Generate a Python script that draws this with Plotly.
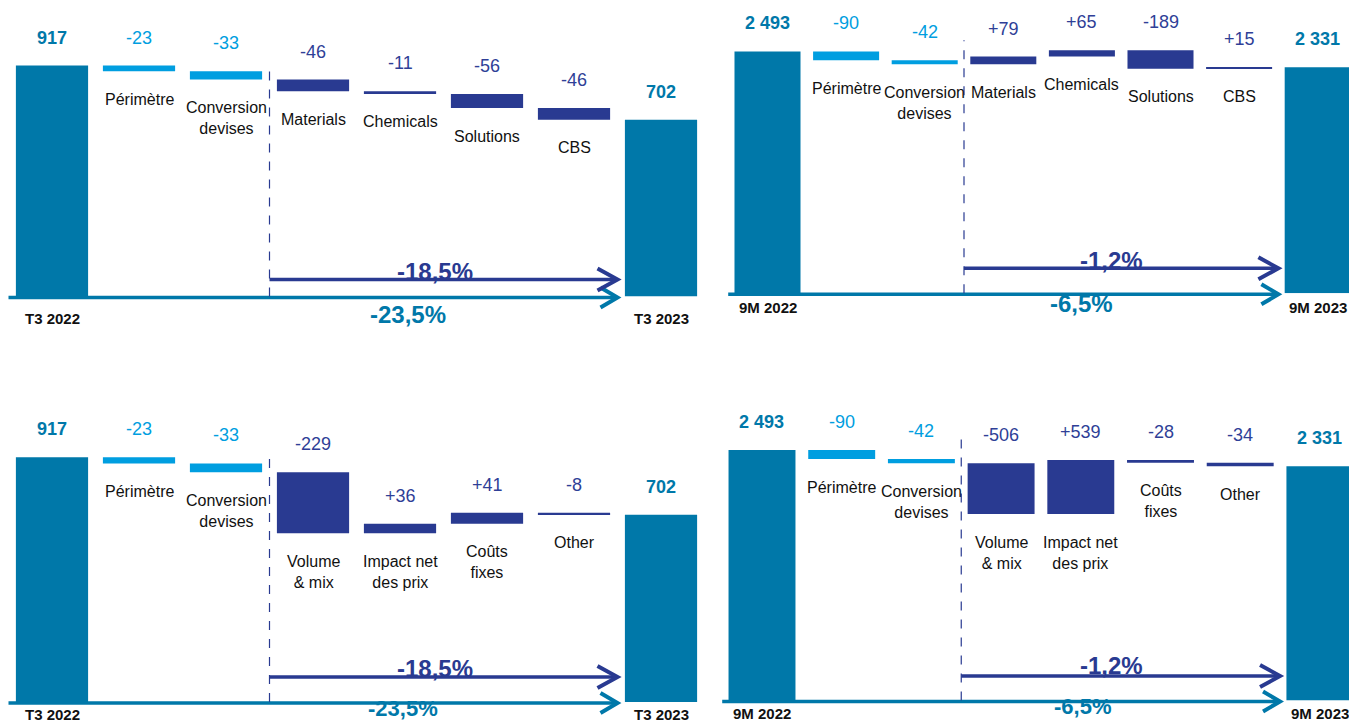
import numpy as np
import plotly.graph_objects as go

W, H = 1349, 722

# ---------------- data ----------------
q3_period = ["T3 2022", "T3 2023"]
m9_period = ["9M 2022", "9M 2023"]

q3_start, q3_end = 917, 702
m9_start, m9_end = 2493, 2331

seg_cats = ["Périmètre", "Conversion<br>devises", "Materials", "Chemicals", "Solutions", "CBS"]
drv_cats = ["Périmètre", "Conversion<br>devises", "Volume<br>& mix", "Impact net<br>des prix", "Coûts<br>fixes", "Other"]

q3_seg_deltas = [-23, -33, -46, -11, -56, -46]
m9_seg_deltas = [-90, -42, 79, 65, -189, 15]
q3_drv_deltas = [-23, -33, -229, 36, 41, -8]
m9_drv_deltas = [-90, -42, -506, 539, -28, -34]

q3_pct = ["-18,5%", "-23,5%"]
m9_pct = ["-1,2%", "-6,5%"]

# ---------------- style ----------------
TEAL = "#0078A9"
LIGHT = "#009EE0"
NAVY = "#293A91"
NAVY_TXT = "#2F3F97"
FONT = "Liberation Sans, Arial, sans-serif"

panels = [
    dict(cats=seg_cats, deltas=q3_seg_deltas, start=q3_start, end=q3_end, period=q3_period, pct=q3_pct,
         c0=52, step=87, left=8.5, right=704.5, base=296.5, scale=0.2519, top=0, bw=0.83,
         navy_off=17, navy_pct=25, teal_pct=-17.5, teal_size=24, per=-22, dash=228, navy_x=4.4, teal_x=4.09),
    dict(cats=seg_cats, deltas=m9_seg_deltas, start=m9_start, end=m9_end, period=m9_period, pct=m9_pct,
         c0=767.5, step=78.6, left=728.2, right=1349, base=293.3, scale=0.0970, top=0, bw=0.84,
         navy_off=25, navy_pct=33, teal_pct=-10, teal_size=24, per=-14, dash=253, navy_x=4.38, teal_x=4.0),
    dict(cats=drv_cats, deltas=q3_drv_deltas, start=q3_start, end=q3_end, period=q3_period, pct=q3_pct,
         c0=52, step=87, left=8.5, right=704.5, base=702, scale=0.2669, top=380, bw=0.83,
         navy_off=25, navy_pct=34, teal_pct=-6.5, teal_size=22, per=-12, dash=250, navy_x=4.4, teal_x=4.03),
    dict(cats=drv_cats, deltas=m9_drv_deltas, start=m9_start, end=m9_end, period=m9_period, pct=m9_pct,
         c0=762, step=79.7, left=722.2, right=1349, base=700.5, scale=0.1005, top=380, bw=0.84,
         navy_off=24.5, navy_pct=35.5, teal_pct=-5.5, teal_size=22, per=-13, dash=267, navy_x=4.39, teal_x=4.02),
]


def fmt_total(v):
    return f"{v:,}".replace(",", " ")


def fmt_delta(v):
    return f"+{v}" if v > 0 else f"{v}"


def pxx(px):
    return px / W


def pxy(py):
    return 1 - py / H


fig = go.Figure()
shapes, annotations = [], []
layout_axes = {}

for i, p in enumerate(panels, start=1):
    xa = "x" if i == 1 else f"x{i}"
    ya = "y" if i == 1 else f"y{i}"
    deltas = np.array(p["deltas"])
    n = len(deltas)
    cum = p["start"] + np.concatenate([[0], np.cumsum(deltas)])
    lo = np.minimum(cum[:-1], cum[1:])
    hi = np.maximum(cum[:-1], cum[1:])
    xs = np.arange(1, n + 1)
    colors = [LIGHT] * 2 + [NAVY] * (n - 2)
    txtcol = [LIGHT] * 2 + [NAVY_TXT] * (n - 2)

    fig.add_trace(go.Bar(x=[0, n + 1], y=[p["start"], p["end"]], base=[0, 0], width=p["bw"],
                         marker=dict(color=TEAL, line=dict(width=0)), xaxis=xa, yaxis=ya,
                         hoverinfo="skip"))
    fig.add_trace(go.Bar(x=xs, y=hi - lo, base=lo, width=p["bw"],
                         marker=dict(color=colors, line=dict(width=0)), xaxis=xa, yaxis=ya,
                         hoverinfo="skip"))

    x_rng = [(p["left"] - p["c0"]) / p["step"], (p["right"] - p["c0"]) / p["step"]]
    y_max = (p["base"] - p["top"]) / p["scale"]
    sfx = "" if i == 1 else str(i)
    layout_axes[f"xaxis{sfx}"] = dict(domain=[pxx(p["left"]), pxx(p["right"])], range=x_rng,
                                      visible=False, anchor=ya, fixedrange=True)
    layout_axes[f"yaxis{sfx}"] = dict(domain=[pxy(p["base"]), pxy(p["top"])], range=[0, y_max],
                                      visible=False, anchor=xa, fixedrange=True)

    # total labels
    for xv, v in [(0, p["start"]), (n + 1, p["end"])]:
        annotations.append(dict(x=xv, y=v, xref=xa, yref=ya, text=f"<b>{fmt_total(v)}</b>",
                                showarrow=False, yanchor="middle", yshift=28,
                                font=dict(family=FONT, size=18, color=TEAL)))
    # period labels
    for xv, t in [(0, p["period"][0]), (n + 1, p["period"][1])]:
        annotations.append(dict(x=xv, y=0, xref=xa, yref=ya, text=f"<b>{t}</b>", showarrow=False,
                                yanchor="middle", yshift=p["per"],
                                font=dict(family=FONT, size=15, color="#111111")))
    # delta + category labels
    for k in range(n):
        annotations.append(dict(x=xs[k], y=hi[k], xref=xa, yref=ya, text=fmt_delta(int(deltas[k])),
                                showarrow=False, yanchor="middle", yshift=28,
                                font=dict(family=FONT, size=18, color=txtcol[k])))
        annotations.append(dict(x=xs[k], y=lo[k], xref=xa, yref=ya, text=p["cats"][k],
                                showarrow=False, yanchor="top", yshift=-17.5,
                                font=dict(family=FONT, size=16, color="#111111")))
    # percentage labels
    annotations.append(dict(x=p["navy_x"], y=0, xref=xa, yref=ya, text=f"<b>{p['pct'][0]}</b>",
                            showarrow=False, yanchor="middle", yshift=p["navy_pct"],
                            font=dict(family=FONT, size=24, color=NAVY)))
    annotations.append(dict(x=p["teal_x"], y=0, xref=xa, yref=ya, text=f"<b>{p['pct'][1]}</b>",
                            showarrow=False, yanchor="middle", yshift=p["teal_pct"],
                            font=dict(family=FONT, size=p["teal_size"], color=TEAL)))

    # decorations (pixel geometry)
    split_px = p["c0"] + 2.5 * p["step"]
    tip_px = p["c0"] + 6.5 * p["step"]
    left_px = p["left"]
    # dashed separator
    shapes.append(dict(type="line", xref="paper", yref="paper", x0=pxx(split_px), x1=pxx(split_px),
                       y0=pxy(p["base"]), y1=pxy(p["base"] - p["dash"]),
                       line=dict(color=NAVY, width=1.2, dash="dash"), layer="above"))
    # teal baseline arrow
    ty = p["base"] + 1
    shapes.append(dict(type="line", xref="paper", yref="paper", x0=pxx(left_px), x1=pxx(tip_px - 1),
                       y0=pxy(ty), y1=pxy(ty), line=dict(color=TEAL, width=3.5), layer="below"))
    shapes.append(dict(type="path", xref="paper", yref="paper",
                       path=f"M{pxx(tip_px - 17)},{pxy(ty - 10)} L{pxx(tip_px)},{pxy(ty)} L{pxx(tip_px - 17)},{pxy(ty + 10)}",
                       line=dict(color=TEAL, width=4), layer="above"))
    # navy arrow
    ny = p["base"] - p["navy_off"]
    shapes.append(dict(type="line", xref="paper", yref="paper", x0=pxx(split_px), x1=pxx(tip_px - 1),
                       y0=pxy(ny), y1=pxy(ny), line=dict(color=NAVY, width=3.5), layer="above"))
    shapes.append(dict(type="path", xref="paper", yref="paper",
                       path=f"M{pxx(tip_px - 20)},{pxy(ny - 11)} L{pxx(tip_px)},{pxy(ny)} L{pxx(tip_px - 20)},{pxy(ny + 11)}",
                       line=dict(color=NAVY, width=4), layer="above"))

fig.update_layout(
    width=W, height=H, margin=dict(l=0, r=0, t=0, b=0),
    paper_bgcolor="white", plot_bgcolor="rgba(0,0,0,0)",
    barmode="overlay", showlegend=False,
    shapes=shapes, annotations=annotations,
    **layout_axes,
)

fig.write_html("out.html")
